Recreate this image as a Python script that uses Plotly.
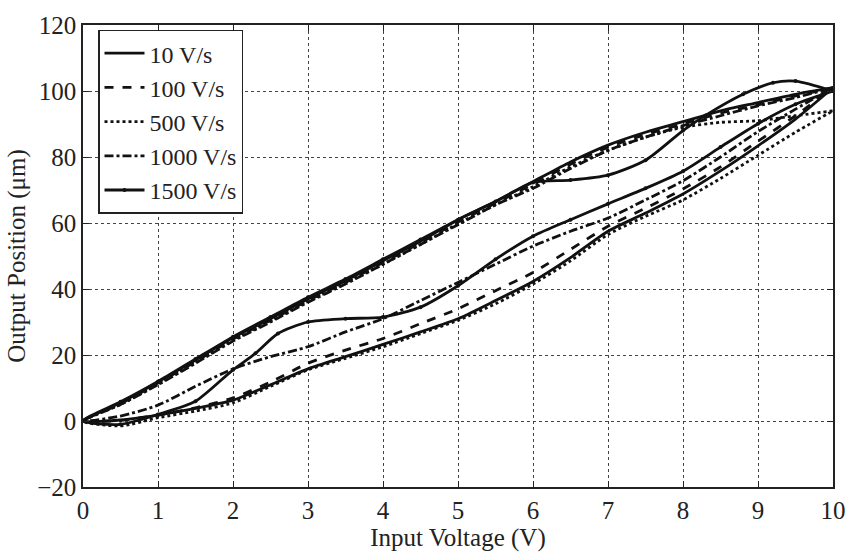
import plotly.graph_objects as go

# ---------------- data ----------------
labels = ["10 V/s", "100 V/s", "500 V/s", "1000 V/s", "1500 V/s"]

# ascending (lower) branches, 0 -> 10 V
v_up = [0, 0.5, 1, 1.5, 2, 2.5, 3, 3.5, 4, 4.5, 5, 5.5, 6, 6.5, 7, 7.5, 8, 8.5, 9, 9.5, 10]
# descending (upper) branches, 10 -> 0 V
v_down = [10, 9.5, 9, 8.5, 8, 7.5, 7, 6.5, 6, 5.5, 5, 4.5, 4, 3.5, 3, 2.5, 2, 1.5, 1, 0.5, 0]

y10_up = [0, 0.3, 1.8, 3.8, 6.3, 11, 15.8, 19.5, 23.2, 27, 31, 36.5, 42.3, 49.5, 57.5, 63, 68.8, 75.8, 83.4, 91.5, 101]
y10_down = [101, 99, 96.5, 94, 90.7, 87.5, 83.6, 78.5, 72.5, 66.5, 61, 54.5, 48.5, 42.5, 37, 31, 25.2, 18.5, 11.8, 5.5, 0]

y100_up = [0, 0.2, 1.8, 4, 7, 11.8, 17.5, 21.5, 25, 29.5, 34, 39.5, 45, 52, 59, 64.5, 70.3, 77, 84.8, 92.5, 101]
y100_down = [101, 98.5, 95.8, 93.3, 90, 86.8, 83, 77.8, 71.8, 66, 60.3, 54, 48, 42, 36.5, 30.5, 24.8, 18, 11.5, 5.2, 0]

y500_up = [0, -1.5, 1, 3, 5.5, 10.5, 15.5, 19, 22.5, 26.5, 30.5, 35.5, 41.5, 48.5, 56.5, 62, 67, 73.5, 80.5, 87.5, 94]
y500_down = [94, 92.5, 91, 90.5, 89, 86, 82, 77, 71, 65.5, 59.8, 53.5, 47.5, 41.8, 36.3, 30.3, 24.5, 17.8, 11.2, 5, 0]

y1000_up = [0, 1.5, 4.8, 10.5, 15.8, 19.5, 22.5, 27, 31, 36.5, 42, 47.5, 53, 57.5, 61.5, 67, 72.8, 80, 87.7, 94.5, 101]
y1000_down = [101, 98, 95.5, 92.5, 89.5, 86, 82, 76.5, 70.5, 65.5, 59.5, 53.5, 47.5, 41.5, 36, 30, 24.2, 17.5, 11, 5, 0]

v1500_up = [0, 0.5, 1, 1.5, 2, 2.3, 2.6, 3, 3.5, 4, 4.5, 5, 5.5, 6, 6.5, 7, 7.5, 8, 8.5, 9, 9.5, 10]
y1500_up = [0, -1, 2, 6, 15.5, 20.5, 26.5, 30, 31, 31.5, 34.5, 41, 49, 56, 61, 65.8, 70.5, 75.7, 83, 90.1, 96, 100]
v1500_down = [10, 9.5, 9.2, 8.8, 8.3, 8, 7.5, 7, 6.5, 6, 5.5, 5, 4.5, 4, 3.5, 3, 2.5, 2, 1.5, 1, 0.5, 0]
y1500_down = [100, 103, 102.5, 99, 92.6, 88, 79, 74.5, 73, 72.3, 66.5, 61, 55, 49, 43, 37.5, 31.5, 25.5, 18.8, 12, 5.8, 0]

x_ticks = [0, 1, 2, 3, 4, 5, 6, 7, 8, 9, 10]
y_ticks = [-20, 0, 20, 40, 60, 80, 100, 120]

# ---------------- figure ----------------
FONT = "Liberation Serif"
series = [
    (labels[0], v_up + v_down, y10_up + y10_down, "solid", "lines"),
    (labels[1], v_up + v_down, y100_up + y100_down, "dash", "lines"),
    (labels[2], v_up + v_down, y500_up + y500_down, "dot", "lines"),
    (labels[3], v_up + v_down, y1000_up + y1000_down, "dashdot", "lines"),
    (labels[4], v1500_up + v1500_down, y1500_up + y1500_down, "solid", "lines+markers"),
]

fig = go.Figure()
for name, xs, ys, dash, mode in series:
    fig.add_trace(go.Scatter(
        x=xs, y=ys, name=name, mode=mode,
        line=dict(color="#111111", width=2.8, dash=dash, shape="spline", smoothing=0.7),
        marker=dict(size=4, color="#111111"),
    ))

axis_common = dict(
    showline=True, linecolor="#222222", linewidth=1.5, mirror="allticks",
    ticks="inside", ticklen=6, tickcolor="#222222",
    showgrid=True, gridcolor="#444444", gridwidth=1, griddash="dot",
    zeroline=False,
    tickfont=dict(family=FONT, size=25, color="#222222"),
)

fig.update_xaxes(
    range=[0, 10], tickvals=x_ticks,
    title=dict(text="Input Voltage (V)", font=dict(family=FONT, size=25, color="#222222"), standoff=0),
    **axis_common,
)
fig.update_yaxes(
    range=[-20, 120], tickvals=y_ticks,
    title=dict(text="Output Position (μm)", font=dict(family=FONT, size=25, color="#222222"), standoff=4),
    **axis_common,
)

fig.update_layout(
    width=858, height=553,
    margin=dict(l=83, r=16, t=22, b=56),
    paper_bgcolor="white", plot_bgcolor="white",
    font=dict(family=FONT, size=25, color="#222222"),
    legend=dict(
        x=0.02, y=0.99, xanchor="left", yanchor="top",
        bgcolor="white", bordercolor="#222222", borderwidth=1.5,
        font=dict(family=FONT, size=24, color="#222222"),
        tracegroupgap=0, itemwidth=40,
    ),
    showlegend=True,
)

fig.write_html("out.html")
